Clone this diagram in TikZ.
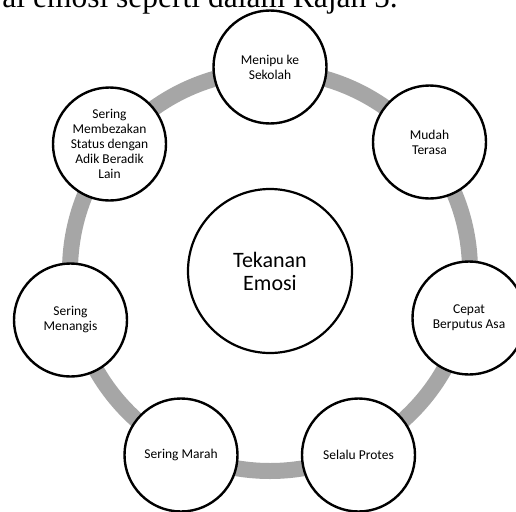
\documentclass[tikz,border=0pt]{standalone}
\usepackage{fontspec}
\setmainfont{Carlito}
\newfontfamily\capfont{Liberation Serif}
\begin{document}
\begin{tikzpicture}[x=1pt,y=-1pt,
  outerbox/.style={circle, draw=black, line width=2.4pt, fill=white, minimum size=113pt, inner sep=0pt, align=center, font=\fontsize{13.5}{15}\selectfont},
  hubbox/.style={circle, draw=black, line width=2.2pt, fill=white, minimum size=164pt, inner sep=0pt, align=center, font=\fontsize{22}{23}\selectfont},
  ringline/.style={line width=16pt, draw=black!35}]
\useasboundingbox (0,0) rectangle (516,511);
\clip (0,0) rectangle (516,511);
\fill[white] (0,0) rectangle (516,511);
\node[anchor=base east, inner sep=0pt, font=\capfont\fontsize{31.5}{34}\selectfont] (cap) at (398,8) {ai emosi seperti dalam Rajah 5.};
\coordinate (ctr) at (270,271);
\draw[ringline] (ctr) circle[radius=200];
\node[hubbox] (hub) at (ctr) {Tekanan\\Emosi};
\node[outerbox] (n0) at (270,67) {Menipu ke\\Sekolah};
\node[outerbox] (n1) at (429.5,142) {Mudah\\Terasa};
\node[outerbox] (n2) at (469,318) {Cepat\\Berputus Asa};
\node[outerbox] (n3) at (358.5,455) {Selalu Protes};
\node[outerbox] (n4) at (181,455) {Sering Marah};
\node[outerbox] (n5) at (70.5,320) {Sering\\Menangis};
\node[outerbox] (n6) at (109.5,144) {Sering\\Membezakan\\Status dengan\\Adik Beradik\\Lain};
\end{tikzpicture}
\end{document}
